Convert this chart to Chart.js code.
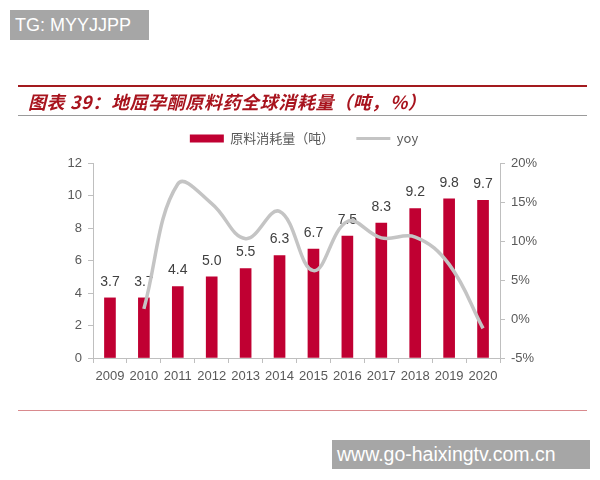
<!DOCTYPE html>
<html>
<head>
<meta charset="utf-8">
<script src="https://cdn.jsdelivr.net/npm/chart.js@4"></script>
<style>
  body { margin: 0; background: #fff; }
  #wrap { position: relative; width: 600px; height: 480px; overflow: hidden; }
  #wrap canvas { position: absolute; left: 0; top: 0; }
  .mark { position: absolute; background: #a6a6a6; color: #fff; font-family: 'Liberation Sans', Arial, sans-serif; padding-left: 5px; }
  #title { position: absolute; left: 28px; top: 88px; font-family: 'Noto Sans CJK SC', sans-serif; font-weight: bold; font-style: italic; font-size: 18px; letter-spacing: 0.6px; color: #a8141e; white-space: nowrap; }
  .rule { position: absolute; left: 18px; width: 569px; }
</style>
</head>
<body>
<div id="wrap">
  <canvas id="chart" width="600" height="480"></canvas>
  <div class="mark" style="left:10px;top:10px;width:134px;height:30px;font-size:18px;line-height:30px;">TG: MYYJJPP</div>
  <div class="rule" style="top:85px;height:2px;background:#a31a1e;"></div>
  <div id="title">图表 39：地屈孕酮原料药全球消耗量（吨，%）</div>
  <div class="rule" style="top:115px;height:1px;background:#9a9a9a;"></div>
  <div class="rule" style="top:410px;height:1px;background:#d98a8e;"></div>
  <div class="mark" style="left:332px;top:440px;width:253px;height:29px;font-size:19.5px;line-height:29px;">www.go-haixingtv.com.cn</div>
</div>
<script>
// 地屈孕酮原料药全球消耗量
const years = ['2009', '2010', '2011', '2012', '2013', '2014', '2015', '2016', '2017', '2018', '2019', '2020'];
const consumption = [3.7, 3.7, 4.4, 5.0, 5.5, 6.3, 6.7, 7.5, 8.3, 9.2, 9.8, 9.7];
const yoy = [null, 1.3, 17.3, 14.8, 10.3, 13.8, 6.2, 12.5, 10.4, 10.5, 7.0, -1.2];
const leftTicks = [0, 2, 4, 6, 8, 10, 12];
const rightTicks = [-5, 0, 5, 10, 15, 20];

const tickColor = '#595959';
const axisColor = '#bfbfbf';

// value labels above bars, drawn before the line so the line sits on top
const barLabels = {
    id: 'barLabels',
    afterDatasetDraw(chart, args) {
        if (args.meta.type !== 'bar') return;
        const ctx = chart.ctx;
        ctx.save();
        ctx.font = '14px "Liberation Sans", Arial, sans-serif';
        ctx.fillStyle = '#404040';
        ctx.textAlign = 'center';
        ctx.textBaseline = 'bottom';
        args.meta.data.forEach((bar, i) => {
            ctx.fillText(consumption[i].toFixed(1), bar.x, bar.y - 9);
        });
        ctx.restore();
    }
};

const data = {
    labels: years,
    datasets: [
        {
            type: 'line',
            label: 'yoy',
            data: yoy,
            yAxisID: 'y1',
            borderColor: '#c4c4c4',
            backgroundColor: '#c4c4c4',
            borderWidth: 3.5,
            tension: 0.4,
            pointRadius: 0,
            order: 0
        },
        {
            type: 'bar',
            label: '原料消耗量（吨）',
            data: consumption,
            yAxisID: 'y',
            backgroundColor: '#c00032',
            barThickness: 11,
            order: 1
        }
    ]
};

const options = {
    responsive: false,
    animation: false,
    layout: { padding: { top: 110, left: 8, right: 0, bottom: 0 } },
    plugins: {
        legend: {
            display: true,
            reverse: true,
            labels: {
                usePointStyle: true,
                pointStyleWidth: 34,
                boxHeight: 8,
                padding: 22,
                color: tickColor,
                font: { size: 13, family: '"Noto Sans CJK SC", sans-serif' },
                generateLabels(chart) {
                    return chart.data.datasets.map((ds, i) => ({
                        text: ds.label,
                        datasetIndex: i,
                        fillStyle: ds.type === 'bar' ? ds.backgroundColor : ds.borderColor,
                        strokeStyle: ds.type === 'bar' ? ds.backgroundColor : ds.borderColor,
                        lineWidth: ds.type === 'bar' ? 0 : 3,
                        pointStyle: ds.type === 'bar' ? 'rect' : 'line',
                        fontColor: tickColor
                    }));
                }
            }
        },
        tooltip: { enabled: false }
    },
    scales: {
        x: {
            offset: true,
            grid: { display: true, drawOnChartArea: false, color: axisColor, tickLength: 5, offset: true },
            border: { color: axisColor },
            ticks: {
                color: tickColor,
                font: { size: 13, family: '"Liberation Sans", Arial, sans-serif' },
                padding: 6,
                minRotation: 0,
                maxRotation: 0,
                autoSkip: false
            },
            afterFit(scale) { scale.height = 122; }
        },
        // empty spacer between legend and plot
        gap: {
            type: 'category',
            position: 'top',
            grid: { display: false },
            border: { display: false },
            ticks: { display: false },
            afterFit(scale) { scale.height = 8; }
        },
        y: {
            position: 'left',
            min: 0,
            max: 12,
            afterBuildTicks(scale) { scale.ticks = leftTicks.map(v => ({ value: v })); },
            grid: { display: true, drawOnChartArea: false, color: axisColor, tickLength: 5 },
            border: { color: axisColor },
            ticks: { color: tickColor, font: { size: 13, family: '"Liberation Sans", Arial, sans-serif' }, padding: 6 },
            afterFit(scale) { scale.width = 85; }
        },
        y1: {
            position: 'right',
            min: -5,
            max: 20,
            afterBuildTicks(scale) { scale.ticks = rightTicks.map(v => ({ value: v })); },
            grid: { display: true, drawOnChartArea: false, color: axisColor, tickLength: 5 },
            border: { color: axisColor },
            ticks: {
                color: tickColor,
                font: { size: 13, family: '"Liberation Sans", Arial, sans-serif' },
                padding: 6,
                callback: v => v + '%'
            },
            afterFit(scale) { scale.width = 100; }
        }
    }
};

new Chart(document.getElementById('chart').getContext('2d'), {
    data: data,
    options: options,
    plugins: [barLabels]
});
</script>
</body>
</html>
